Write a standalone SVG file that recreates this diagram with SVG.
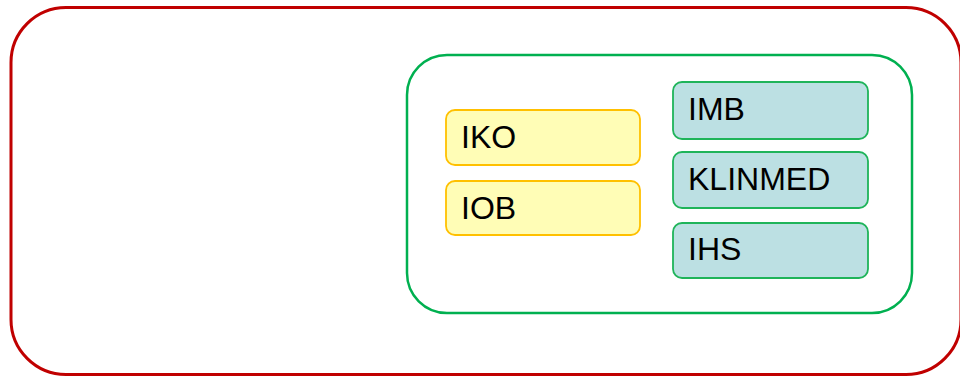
<svg xmlns="http://www.w3.org/2000/svg" width="960" height="378" viewBox="0 0 960 378">
  <style>
    .outer { fill: #ffffff; stroke: #c00000; stroke-width: 3; }
    .group { fill: #ffffff; stroke: #00b050; stroke-width: 2.5; }
    .yellow { fill: #fffdb6; stroke: #ffc000; stroke-width: 1.8; }
    .teal { fill: #bce0e3; stroke: #1fb45a; stroke-width: 1.8; }
    .label { font-family: "Liberation Sans", Arial, sans-serif; font-size: 32px; fill: #000000; }
  </style>
  <rect width="960" height="378" fill="#ffffff"/>
  <g id="outer">
    <rect class="outer" x="11" y="7.5" width="950" height="367" rx="55" ry="55"/>
  </g>
  <g id="group">
    <rect class="group" x="407" y="55" width="505" height="258" rx="40" ry="40"/>
  </g>
  <g id="IKO">
    <rect class="yellow" x="446" y="110" width="194" height="55" rx="9" ry="9"/>
    <text class="label" x="461" y="148">IKO</text>
  </g>
  <g id="IOB">
    <rect class="yellow" x="446" y="181" width="194" height="54" rx="9" ry="9"/>
    <text class="label" x="461" y="219">IOB</text>
  </g>
  <g id="IMB">
    <rect class="teal" x="673" y="82" width="195" height="57" rx="9" ry="9"/>
    <text class="label" x="688" y="120">IMB</text>
  </g>
  <g id="KLINMED">
    <rect class="teal" x="673" y="152" width="195" height="56" rx="9" ry="9"/>
    <text class="label" x="688" y="190">KLINMED</text>
  </g>
  <g id="IHS">
    <rect class="teal" x="673" y="223" width="195" height="55" rx="9" ry="9"/>
    <text class="label" x="688" y="260">IHS</text>
  </g>
  <g id="connectors"></g>
</svg>
